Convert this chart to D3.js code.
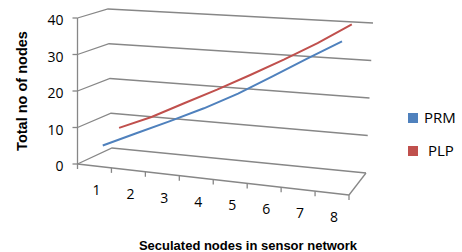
<!DOCTYPE html>
<html>
<head>
<meta charset="utf-8">
<script src="https://cdn.jsdelivr.net/npm/d3@7"></script>
<style>
  body { margin: 0; background: #fff; }
  svg { display: block; }
  text { font-family: "Liberation Sans", Arial, sans-serif; fill: #000; }
  .grid { fill: none; stroke: #878787; stroke-width: 1.3; }
  .title { font-weight: bold; font-size: 13px; }
  .ytitle { font-weight: bold; font-size: 14.5px; }
  .tick { font-family: "Open Sans", sans-serif; font-size: 14px; }
  .legend { font-family: "Open Sans", sans-serif; font-size: 15px; }
</style>
</head>
<body>
<script>
// data
var categories = [1, 2, 3, 4, 5, 6, 7, 8]
var prm = [4.5, 8.8, 13, 17.3, 22, 27.3, 32.6, 37.7]
var plp = [7.3, 11.2, 15.8, 20.3, 25, 29.8, 34.8, 40.3]
var yTicks = [0, 10, 20, 30, 40]
var seriesNames = ['PRM', 'PLP']
var seriesColors = ['#4f81bd', '#c0504d']

var width = 462, height = 252

// screen corners of the 3d box (front/back, left/right, bottom/top)
var box = {
    flb: [77.5, 164], flt: [77.5, 18],
    frb: [349, 195], frt: [355, 37],
    blb: [112, 148], blt: [108, 9],
    brb: [366, 173], brt: [373, 23]
}

// scales -> fractions of the box
var uBand = d3.scaleBand().domain(categories).range([0, 1])
var vScale = d3.scaleLinear().domain([0, 40]).range([0, 1])
var wBand = d3.scaleBand().domain(seriesNames).range([0, 1])

function lerp(a, b, t){
    return [a[0] + (b[0]-a[0])*t, a[1] + (b[1]-a[1])*t]
}
// trilinear blend of the box corners
function project(u, v, w){
    var fb = lerp(box.flb, box.frb, u), ft = lerp(box.flt, box.frt, u)
    var bb = lerp(box.blb, box.brb, u), bt = lerp(box.blt, box.brt, u)
    return lerp(lerp(fb, ft, v), lerp(bb, bt, v), w)
}
function uMid(c){ return uBand(c) + uBand.bandwidth()/2 }

var svg = d3.select('body').append('svg')
    .attr('width', width)
    .attr('height', height)

// gridlines on side wall + back wall
var grid = svg.append('g')
yTicks.forEach(function(t){
    var v = vScale(t)
    var pts = [project(0, v, 0), project(0, v, 1), project(1, v, 1)]
    grid.append('path').attr('class', 'grid').attr('d', d3.line()(pts))
})
// floor right edge
grid.append('path').attr('class', 'grid')
    .attr('d', d3.line()([project(1, 0, 0), project(1, 0, 1)]))

// vertical axis
var axis = svg.append('g')
axis.append('path').attr('class', 'grid')
    .attr('d', d3.line()([project(0, 0, 0), project(0, 1, 0)]))
yTicks.forEach(function(t){
    var p = project(0, vScale(t), 0)
    axis.append('path').attr('class', 'grid')
        .attr('d', d3.line()([[p[0]-5, p[1]], p]))
    axis.append('text').attr('class', 'tick')
        .attr('x', p[0] - 14)
        .attr('y', p[1] + 7)
        .attr('text-anchor', 'end')
        .text(t)
})

// horizontal (category) axis along the front edge
axis.append('path').attr('class', 'grid')
    .attr('d', d3.line()([project(0, 0, 0), project(1, 0, 0)]))
d3.range(categories.length + 1).forEach(function(i){
    var p = project(i / categories.length, 0, 0)
    axis.append('path').attr('class', 'grid')
        .attr('d', d3.line()([p, [p[0], p[1]+5]]))
})
categories.forEach(function(c){
    var p = project(uMid(c), 0, 0)
    axis.append('text').attr('class', 'tick')
        .attr('x', p[0] + 2)
        .attr('y', p[1] + 29)
        .attr('text-anchor', 'middle')
        .text(c)
})

// series lines, back series first
var series = [prm, plp]
for (var s = series.length - 1; s >= 0; s--){
    var w = wBand(seriesNames[s]) + wBand.bandwidth()/2
    var pts = categories.map(function(c, i){
        return project(uMid(c), vScale(series[s][i]), w)
    })
    svg.append('path')
        .attr('d', d3.line()(pts))
        .attr('fill', 'none')
        .attr('stroke', seriesColors[s])
        .attr('stroke-width', 2)
}

// axis titles
svg.append('text').attr('class', 'title')
    .attr('x', 248).attr('y', 250)
    .attr('text-anchor', 'middle')
    .text('Seculated nodes in sensor network')
svg.append('text').attr('class', 'ytitle')
    .attr('transform', 'translate(27,91) rotate(-90)')
    .attr('text-anchor', 'middle')
    .text('Total no of nodes')

// legend
var legend = svg.append('g')
var legendLabels = ['PRM', ' PLP']
seriesNames.forEach(function(n, i){
    var y = 113 + i*33
    legend.append('rect')
        .attr('x', 408).attr('y', y)
        .attr('width', 10).attr('height', 10)
        .attr('fill', seriesColors[i])
    legend.append('text').attr('class', 'legend')
        .attr('x', 424).attr('y', y + 10)
        .attr('xml:space', 'preserve')
        .style('white-space', 'pre')
        .text(legendLabels[i])
})
</script>
</body>
</html>
